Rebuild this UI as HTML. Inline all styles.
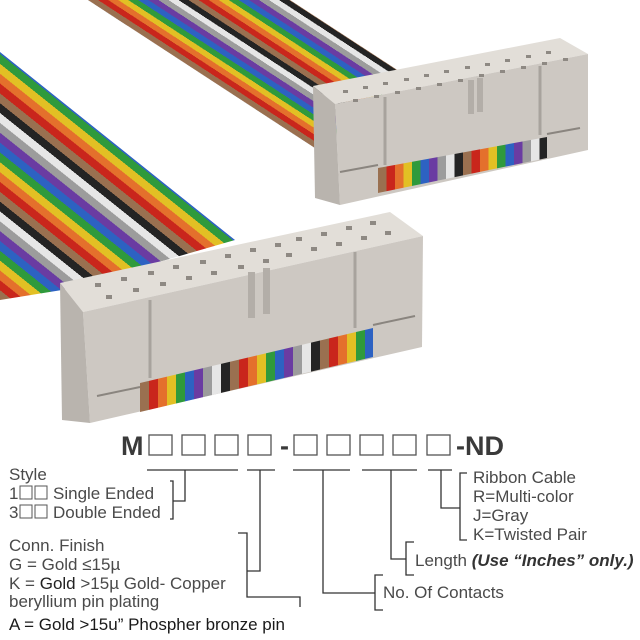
<!DOCTYPE html>
<html><head><meta charset="utf-8"><style>
html,body{margin:0;padding:0;background:#fff;}
svg{display:block;}
text{font-family:"Liberation Sans",Arial,sans-serif;}
</style></head><body>
<svg width="640" height="640" viewBox="0 0 640 640" xmlns="http://www.w3.org/2000/svg">
<defs>
<linearGradient id="gF" gradientUnits="userSpaceOnUse" x1="0" y1="300" x2="48" y2="240" spreadMethod="repeat">
<stop offset="0" stop-color="#9a7050"/><stop offset=".1" stop-color="#9a7050"/>
<stop offset=".1" stop-color="#c9261c"/><stop offset=".2" stop-color="#c9261c"/>
<stop offset=".2" stop-color="#e4702c"/><stop offset=".3" stop-color="#e4702c"/>
<stop offset=".3" stop-color="#e2c024"/><stop offset=".4" stop-color="#e2c024"/>
<stop offset=".4" stop-color="#2f9a3c"/><stop offset=".5" stop-color="#2f9a3c"/>
<stop offset=".5" stop-color="#2d62c2"/><stop offset=".6" stop-color="#2d62c2"/>
<stop offset=".6" stop-color="#6a3ca2"/><stop offset=".7" stop-color="#6a3ca2"/>
<stop offset=".7" stop-color="#9c9c9c"/><stop offset=".8" stop-color="#9c9c9c"/>
<stop offset=".8" stop-color="#e6e6e6"/><stop offset=".9" stop-color="#e6e6e6"/>
<stop offset=".9" stop-color="#242424"/><stop offset="1" stop-color="#242424"/>
</linearGradient>
<linearGradient id="gB" href="#gF" x1="88" y1="0" x2="118" y2="-46"/>
<linearGradient id="gBandF" href="#gF" x1="140" y1="0" x2="230" y2="0"/>
<linearGradient id="gBandB" href="#gF" x1="378" y1="0" x2="463" y2="0"/>
</defs>

<!-- back ribbon -->
<polygon points="88,0 290,0 405,75 318,150" fill="url(#gB)"/>
<!-- back connector -->
<polygon points="313,86 560,38 588,54 335,104" fill="#e2ded8"/>
<polygon points="335,104 588,54 588,150 340,205" fill="#cdc8c2"/>
<polygon points="313,86 335,104 340,205 315,198" fill="#b9b4ae"/>
<polygon points="378,168 547,137 547,158 378,193" fill="url(#gBandB)"/>
<line x1="340" y1="172" x2="378" y2="165" stroke="#8a857f" stroke-width="2"/>
<line x1="547" y1="134" x2="580" y2="128" stroke="#8a857f" stroke-width="2"/>
<line x1="385" y1="97" x2="385" y2="165" stroke="#a8a39d" stroke-width="3"/>
<line x1="540" y1="66" x2="540" y2="135" stroke="#a8a39d" stroke-width="3"/>
<rect x="468" y="80" width="6" height="34" fill="#b3aea8"/>
<rect x="477" y="78" width="6" height="34" fill="#b3aea8"/>
<g fill="#8e8983">
<rect x="343" y="90" width="5" height="3"/><rect x="363" y="86" width="5" height="3"/><rect x="383" y="82" width="5" height="3"/><rect x="404" y="78" width="5" height="3"/><rect x="424" y="74" width="5" height="3"/><rect x="444" y="70" width="5" height="3"/><rect x="465" y="66" width="5" height="3"/><rect x="485" y="63" width="5" height="3"/><rect x="505" y="59" width="5" height="3"/><rect x="526" y="55" width="5" height="3"/><rect x="546" y="51" width="5" height="3"/>
<rect x="353" y="99" width="5" height="3"/><rect x="374" y="95" width="5" height="3"/><rect x="395" y="91" width="5" height="3"/><rect x="416" y="87" width="5" height="3"/><rect x="437" y="83" width="5" height="3"/><rect x="458" y="79" width="5" height="3"/><rect x="479" y="74" width="5" height="3"/><rect x="500" y="70" width="5" height="3"/><rect x="521" y="66" width="5" height="3"/><rect x="542" y="62" width="5" height="3"/><rect x="563" y="58" width="5" height="3"/>
</g>

<!-- front ribbon -->
<polygon points="0,52 235,240 62,290 0,300" fill="url(#gF)"/>
<!-- front connector -->
<polygon points="60,283 390,212 423,236 83,312" fill="#e2ded8"/>
<polygon points="83,312 423,236 422,347 90,423" fill="#cdc8c2"/>
<polygon points="60,283 83,312 90,423 62,420" fill="#b9b4ae"/>
<polygon points="140,383 373,328 373,357 140,412" fill="url(#gBandF)"/>
<line x1="97" y1="396" x2="140" y2="387" stroke="#8a857f" stroke-width="2"/>
<line x1="373" y1="325" x2="415" y2="316" stroke="#8a857f" stroke-width="2"/>
<line x1="150" y1="300" x2="150" y2="378" stroke="#a8a39d" stroke-width="3"/>
<line x1="355" y1="252" x2="355" y2="328" stroke="#a8a39d" stroke-width="3"/>
<rect x="248" y="272" width="7" height="46" fill="#b3aea8"/>
<rect x="263" y="268" width="7" height="46" fill="#b3aea8"/>
<g fill="#8e8983">
<rect x="95" y="283" width="6" height="4"/><rect x="121" y="277" width="6" height="4"/><rect x="148" y="271" width="6" height="4"/><rect x="173" y="265" width="6" height="4"/><rect x="200" y="260" width="6" height="4"/><rect x="225" y="254" width="6" height="4"/><rect x="250" y="248" width="6" height="4"/><rect x="275" y="243" width="6" height="4"/><rect x="296" y="237" width="6" height="4"/><rect x="321" y="232" width="6" height="4"/><rect x="346" y="226" width="6" height="4"/><rect x="370" y="221" width="6" height="4"/>
<rect x="106" y="295" width="6" height="4"/><rect x="133" y="288" width="6" height="4"/><rect x="160" y="282" width="6" height="4"/><rect x="186" y="276" width="6" height="4"/><rect x="211" y="271" width="6" height="4"/><rect x="238" y="265" width="6" height="4"/><rect x="263" y="259" width="6" height="4"/><rect x="286" y="253" width="6" height="4"/><rect x="311" y="247" width="6" height="4"/><rect x="336" y="242" width="6" height="4"/><rect x="361" y="236" width="6" height="4"/><rect x="385" y="231" width="6" height="4"/>
</g>

<!-- part number -->
<g font-size="27" font-weight="bold" fill="#3a3a3a">
<text x="121" y="455">M</text>
<text x="280" y="455">-</text>
<text x="456" y="455">-ND</text>
</g>
<g fill="none" stroke="#555" stroke-width="1.3">
<rect x="149" y="435" width="23" height="20"/><rect x="182" y="435" width="23" height="20"/>
<rect x="215" y="435" width="23" height="20"/><rect x="248" y="435" width="23" height="20"/>
<rect x="294" y="435" width="23" height="20"/><rect x="327" y="435" width="23" height="20"/>
<rect x="360" y="435" width="23" height="20"/><rect x="393" y="435" width="23" height="20"/>
<rect x="427" y="435" width="23" height="20"/>
</g>

<!-- connector lines -->
<g fill="none" stroke="#333" stroke-width="1.3">
<line x1="147" y1="470" x2="238" y2="470"/>
<line x1="247" y1="470" x2="275" y2="470"/>
<line x1="293" y1="470" x2="350" y2="470"/>
<line x1="362" y1="470" x2="417" y2="470"/>
<line x1="428" y1="470" x2="452" y2="470"/>
<polyline points="185,470 185,501 173,501"/>
<polyline points="170,481 173,481 173,519 170,519"/>
<polyline points="260,470 260,571 247,571"/>
<polyline points="238,533 247,533 247,597 300,597 300,607"/>
<polyline points="323,470 323,593 375,593"/>
<polyline points="383,575 375,575 375,610 383,610"/>
<polyline points="391,470 391,559 406,559"/>
<polyline points="414,542 406,542 406,575 414,575"/>
<polyline points="441,470 441,508 460,508"/>
<polyline points="467,473 460,473 460,540 467,540"/>
</g>

<g font-size="17" fill="#4a4a4a">
<text x="9" y="480">Style</text>
<text x="9" y="499">1</text><text x="9" y="518">3</text>
<text x="53" y="499">Single Ended</text>
<text x="53" y="518">Double Ended</text>
<text x="9" y="551">Conn. Finish</text>
<text x="9" y="570">G = Gold ≤15µ</text>
<text x="9" y="589">K = <tspan fill="#222">Gold</tspan> &gt;15µ Gold- Copper</text>
<text x="9" y="607">beryllium pin plating</text>
<text x="9" y="630" fill="#1a1a1a">A = Gold &gt;15u” Phospher bronze pin</text>
<text x="473" y="483">Ribbon Cable</text>
<text x="473" y="502">R=Multi-color</text>
<text x="473" y="521">J=Gray</text>
<text x="473" y="540">K=Twisted Pair</text>
<text x="415" y="566">Length <tspan font-weight="bold" font-style="italic" fill="#333">(Use “Inches” only.)</tspan></text>
<text x="383" y="598">No. Of Contacts</text>
</g>
<g fill="none" stroke="#555" stroke-width="1">
<rect x="20" y="486" width="12" height="13"/><rect x="35" y="486" width="12" height="13"/>
<rect x="20" y="505" width="12" height="13"/><rect x="35" y="505" width="12" height="13"/>
</g>
</svg>
</body></html>
